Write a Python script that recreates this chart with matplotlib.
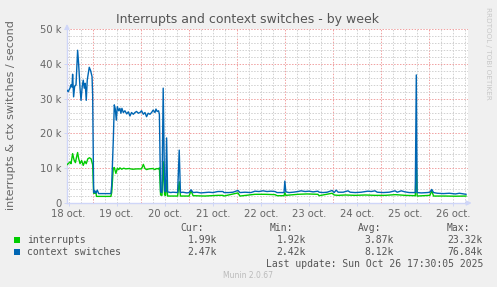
import numpy as np
import matplotlib
matplotlib.use("Agg")
import matplotlib.pyplot as plt
from matplotlib.patches import Rectangle

# time axis: hours since 18 oct 00:00, values in thousands per second
ctx_hours = [11.2, 11.8, 12.7, 13.2, 13.7, 14.0, 14.5, 15.0, 15.7, 16.5, 17.0, 17.7, 18.2, 18.8,
             19.3, 19.8, 20.3, 20.8, 21.3, 22.3, 23.0, 23.7, 24.0, 24.5, 25.1, 25.6, 26.3, 27.0,
             33.1, 33.5, 34.3, 34.8, 35.3, 35.8, 36.3, 37.0, 37.6, 38.1, 38.6, 39.3, 40.1, 41.0,
             41.8, 42.6, 43.4, 44.3, 45.1, 45.9, 46.8, 47.6, 48.4, 49.3, 50.1, 50.9, 51.7, 52.6,
             53.4, 54.2, 55.1, 55.6, 56.2, 56.9, 57.3, 57.9, 58.6, 59.2, 59.9, 60.4, 60.9, 61.4,
             63.0, 64.0, 66.4, 67.2, 67.8, 69.0, 71.0, 72.1, 73.1, 74.1, 76.0, 78.0, 80.0, 82.0,
             84.0, 86.5, 89.0, 89.5, 92.0, 94.0, 96.5, 97.5, 100.0, 103.0, 105.0, 107.0, 109.0,
             111.0, 113.0, 115.0, 116.0, 118.0, 119.5, 119.9, 120.4, 122.0, 124.0, 126.5, 128.0,
             130.0, 132.0, 134.0, 136.4, 137.0, 139.0, 141.0, 143.5, 144.5, 145.5, 146.5, 149.0,
             151.4, 152.5, 155.0, 158.0, 161.3, 163.0, 164.9, 166.0, 169.0, 172.0, 174.9, 176.0,
             178.0, 179.8, 182.0, 185.0, 185.5, 185.9, 188.0, 191.0, 192.3, 193.2, 194.1, 196.0,
             199.0, 202.0, 205.0, 207.0, 210.3]
ctx_k = [32.4, 32.0, 33.0, 34.0, 33.3, 37.0, 30.5, 33.5, 34.0, 43.9, 40.0, 33.0, 29.5, 33.5,
         35.3, 33.0, 34.4, 29.5, 35.3, 39.0, 38.0, 36.3, 31.0, 3.0, 3.5, 2.8, 3.7, 2.7,
         2.7, 5.0, 18.0, 28.2, 27.0, 23.8, 27.7, 26.5, 27.2, 25.8, 27.2, 26.0, 26.5, 25.6,
         26.2, 25.0, 26.0, 25.5, 26.0, 26.3, 25.8, 26.0, 26.5, 25.5, 26.0, 24.8, 25.8, 25.5,
         26.0, 26.7, 26.0, 27.0, 26.3, 26.5, 25.5, 3.2, 3.0, 33.0, 3.5, 3.2, 18.7, 3.2,
         3.0, 3.1, 3.0, 15.2, 3.0, 3.1, 2.9, 3.0, 3.8, 3.0, 3.1, 2.9, 3.0, 3.1,
         3.0, 3.3, 3.3, 3.0, 3.0, 3.1, 3.6, 3.0, 3.1, 3.0, 3.4, 3.3, 3.5,
         3.3, 3.4, 3.3, 3.0, 3.0, 3.0, 6.3, 3.2, 3.0, 3.1, 3.3, 3.5,
         3.3, 3.4, 3.2, 3.4, 3.1, 3.0, 3.1, 3.6, 3.0, 3.7, 3.1, 3.1,
         3.5, 3.1, 3.0, 3.1, 3.4, 3.3, 3.5, 3.1, 3.0, 3.1, 3.5, 3.1,
         3.5, 3.2, 3.0, 3.0, 36.8, 3.0, 2.9, 3.0, 3.1, 3.9, 3.0, 2.8,
         2.7, 2.8, 2.6, 2.8, 2.5]

irq_hours = [11.2, 11.8, 12.7, 13.2, 14.0, 14.7, 15.4, 16.0, 16.5, 17.0, 17.7, 18.5, 19.3, 20.1,
             20.8, 21.6, 22.4, 23.2, 24.0, 24.5, 25.1, 25.6, 25.9, 33.1, 33.5, 34.3, 34.8, 35.6,
             36.3, 37.0, 37.6, 38.5, 39.5, 40.5, 42.0, 44.0, 46.0, 48.4, 49.3, 50.1, 50.9, 52.0,
             54.0, 55.0, 56.0, 56.9, 57.3, 57.9, 58.6, 59.2, 59.9, 60.4, 60.9, 61.4, 66.4, 67.2,
             67.8, 72.1, 73.1, 74.1, 80.0, 86.5, 89.0, 89.5, 96.5, 97.5, 105.0, 110.0, 115.0,
             116.0, 119.5, 119.9, 120.4, 126.5, 131.0, 136.4, 137.0, 143.5, 144.5, 146.5, 150.0,
             155.0, 160.0, 165.0, 170.0, 175.0, 180.0, 185.0, 185.5, 185.9, 192.3, 193.2, 194.1,
             200.0, 205.0, 210.3]
irq_k = [11.0, 11.3, 11.8, 11.3, 14.2, 12.4, 11.6, 13.3, 14.5, 12.8, 11.3, 12.2, 10.8, 12.0,
         11.3, 12.7, 13.0, 12.7, 11.0, 2.8, 2.8, 3.3, 1.9, 1.9, 3.0, 10.0, 10.2, 8.5,
         10.0, 9.6, 10.1, 9.7, 10.0, 9.8, 9.9, 9.7, 9.8, 9.8, 11.1, 9.9, 9.6, 9.8,
         9.9, 9.6, 9.9, 9.8, 10.1, 2.3, 2.2, 11.9, 2.3, 2.2, 6.6, 2.0, 2.0, 6.1,
         2.0, 2.0, 3.5, 2.1, 2.0, 2.2, 2.2, 2.0, 2.9, 2.0, 2.5, 2.5, 2.4,
         2.1, 2.1, 3.0, 2.2, 2.5, 2.6, 2.5, 2.1, 2.8, 2.3, 2.2, 2.3,
         2.2, 2.3, 2.2, 2.2, 2.4, 2.2, 2.1, 11.9, 2.0, 2.2, 3.5, 2.0,
         2.0, 1.95, 2.0]

day_labels = ["18 oct.", "19 oct.", "20 oct.", "21 oct.", "22 oct.",
              "23 oct.", "24 oct.", "25 oct.", "26 oct."]
y_labels = ["0", "10 k", "20 k", "30 k", "40 k", "50 k"]

series_names = ["interrupts", "context switches"]
series_colors = ["#00CC00", "#0066B3"]
stat_heads = ["Cur:", "Min:", "Avg:", "Max:"]
stats = [["1.99k", "1.92k", "3.87k", "23.32k"],
         ["2.47k", "2.42k", "8.12k", "76.84k"]]

W, H = 497, 287
FONT = "#666666"
AXIS = "#CFD6F8"


def px(x, y):
    # pixel (from top-left) -> figure fraction
    return x / W, 1 - y / H


fig = plt.figure(figsize=(W / 100, H / 100), dpi=100, facecolor="#F0F0F0")
ax = fig.add_axes([67 / W, 1 - 203 / H, 401 / W, 174 / H])
ax.set_facecolor("white")

x0, x1 = 11.2, 211.3
ax.set_xlim(x0, x1)
ax.set_ylim(0, 50)

# grid: minor every 6 h / 2k, major every day / 10k
for h in np.arange(12, x1, 6):
    if h % 24 == 0:
        ax.axvline(h, color="#F0A0A0", lw=0.7, ls=(0, (1.5, 1.5)), zorder=1)
    else:
        ax.axvline(h, color="#D0D0D0", lw=0.7, ls=(0, (1.5, 1.5)), zorder=1)
for v in np.arange(2, 51, 2):
    if v % 10 == 0:
        ax.axhline(v, color="#F0A0A0", lw=0.7, ls=(0, (1.5, 1.5)), zorder=1)
    else:
        ax.axhline(v, color="#D0D0D0", lw=0.7, ls=(0, (1.5, 1.5)), zorder=1)

ax.plot(irq_hours, irq_k, color=series_colors[0], lw=1.0, zorder=3)
ax.plot(ctx_hours, ctx_k, color=series_colors[1], lw=1.0, zorder=4)

ax.set_xticks(np.arange(12, 205, 24))
ax.set_xticklabels(day_labels)
ax.set_yticks(np.arange(0, 51, 10))
ax.set_yticklabels(y_labels)
ax.tick_params(colors=FONT, labelsize=7.2, length=2, width=0.7, pad=2)
ax.tick_params(axis="x", color=AXIS)
ax.tick_params(axis="y", color=AXIS)

for s in ["top", "right"]:
    ax.spines[s].set_visible(False)
for s in ["left", "bottom"]:
    ax.spines[s].set_color(AXIS)
    ax.spines[s].set_linewidth(1)

# axis arrows
ax.annotate("", xy=(1.016, 0), xytext=(0.99, 0), xycoords="axes fraction",
            arrowprops=dict(arrowstyle="-|>", color=AXIS, lw=1, mutation_scale=7),
            annotation_clip=False)
ax.annotate("", xy=(0, 1.045), xytext=(0, 0.99), xycoords="axes fraction",
            arrowprops=dict(arrowstyle="-|>", color=AXIS, lw=1, mutation_scale=7),
            annotation_clip=False)

fig.text(*px(247, 19), "Interrupts and context switches - by week",
         ha="center", va="center", fontsize=9.0, color="#555555")
fig.text(*px(11, 115), "interrupts & ctx switches / second", rotation=90,
         ha="center", va="center", fontsize=8.0, color=FONT)
fig.text(*px(488, 53), "RRDTOOL / TOBI OETIKER", rotation=270,
         ha="center", va="center", fontsize=5.2, color="#C8C8C8")

# legend block
mono = "DejaVu Sans Mono"
col_right = [217, 306, 394, 483]
for head, xr in zip(stat_heads, col_right):
    fig.text(*px(xr - 13, 228), head, ha="right", va="center",
             family=mono, fontsize=7, color="#555555")
for i, (name, color) in enumerate(zip(series_names, series_colors)):
    yy = 240 + 12 * i
    fx, fy = px(14, yy + 3)
    fig.patches.append(Rectangle((fx, fy), 6 / W, 6 / H, transform=fig.transFigure,
                                 facecolor=color, edgecolor="none"))
    fig.text(*px(27, yy), name, ha="left", va="center",
             family=mono, fontsize=7, color="#555555")
    for val, xr in zip(stats[i], col_right):
        fig.text(*px(xr, yy), val, ha="right", va="center",
                 family=mono, fontsize=7, color="#555555")

fig.text(*px(483, 264), "Last update: Sun Oct 26 17:30:05 2025", ha="right", va="center",
         family=mono, fontsize=7, color="#555555")
fig.text(*px(248, 276), "Munin 2.0.67", ha="center", va="center",
         fontsize=5.5, color="#BBBBBB")

fig.savefig("out.png", dpi=100, facecolor=fig.get_facecolor())
